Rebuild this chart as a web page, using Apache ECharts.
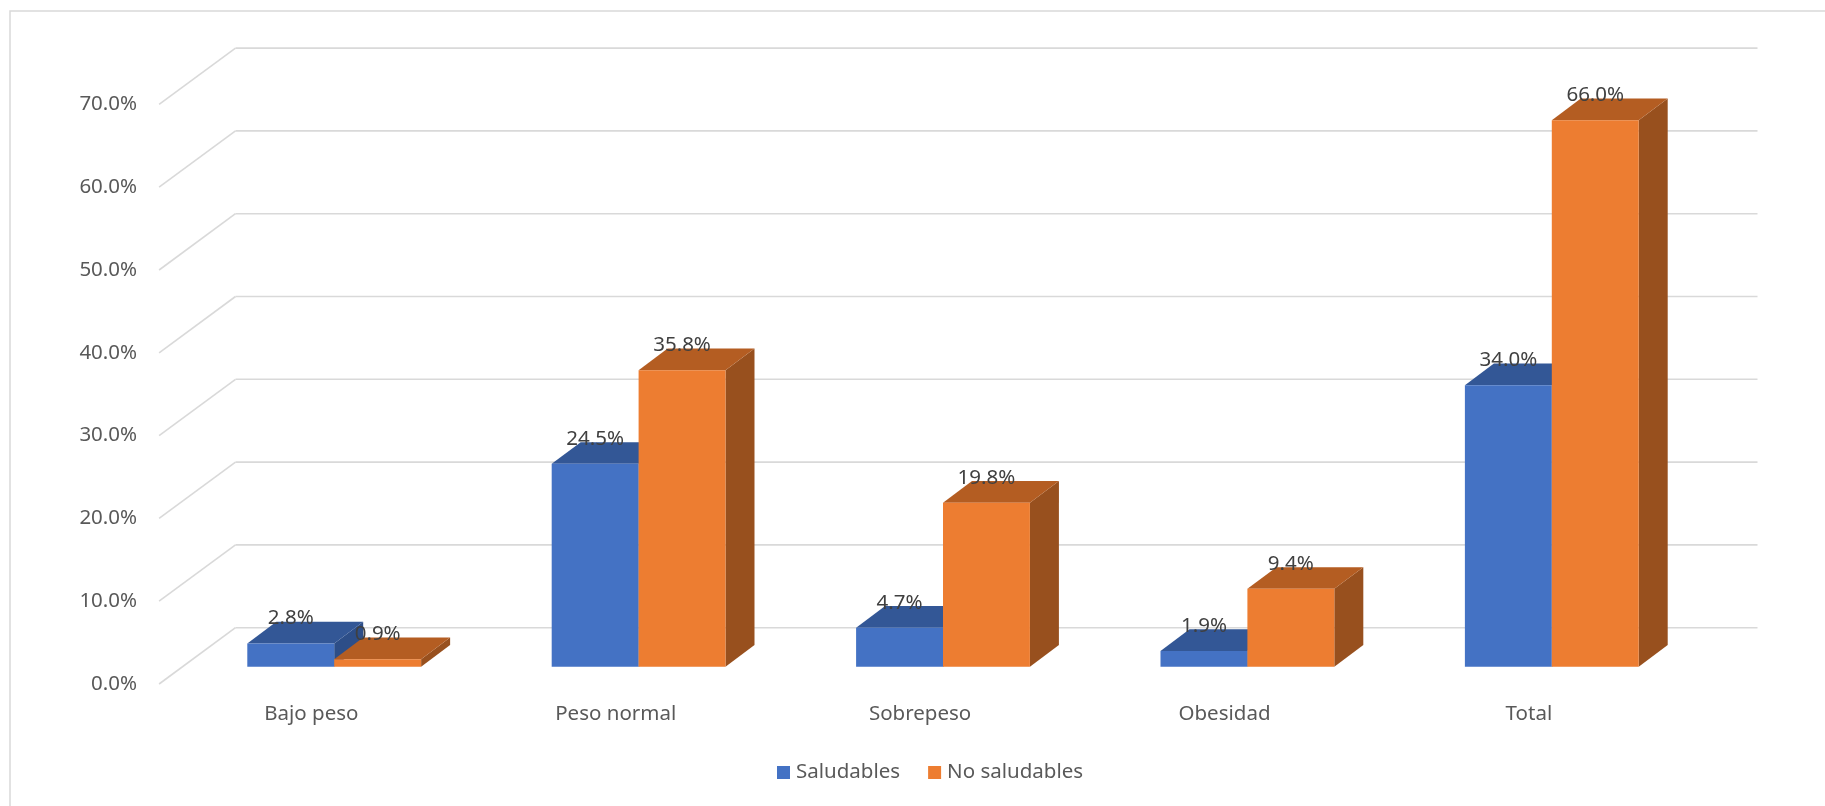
<!DOCTYPE html>
<html>
<head>
<meta charset="utf-8">
<script src="https://cdn.jsdelivr.net/npm/echarts@6/dist/echarts.min.js"></script>
<style>
html,body{margin:0;padding:0;background:#fff;}
#chart{width:1825px;height:806px;}
</style>
</head>
<body>
<div id="chart"></div>
<script>
const categories = ['Bajo peso', 'Peso normal', 'Sobrepeso', 'Obesidad', 'Total'];
const saludables = [2.8, 24.5, 4.7, 1.9, 34.0];
const noSaludables = [0.9, 35.8, 19.8, 9.4, 66.0];
const yTicks = [0, 10, 20, 30, 40, 50, 60, 70];
const seriesNames = ['Saludables', 'No saludables'];

const FONT = '"Noto Sans", "Open Sans", sans-serif';
const colors = [
  { front: '#4472C4', top: '#335796', side: '#2D4E88' },
  { front: '#ED7D31', top: '#B45D22', side: '#98501E' }
];
const DEPTH = [29, -21.7];      // bar depth vector
const BACK = [53.5, -39];       // back wall offset from bar front plane
const FRONT = [-22.9, 17.3];    // floor front edge offset from bar front plane
const BAR_RATIO = 0.2855;

const chart = echarts.init(document.getElementById('chart'), null, { renderer: 'canvas' });

function barRender(params, api) {
  const idx = params.seriesIndex - 1;
  const i = api.value(0), v = api.value(1);
  const base = api.coord([i, 0]);
  const top = api.coord([i, v]);
  const band = api.size([1, 0])[0];
  const w = band * BAR_RATIO;
  const x0 = idx === 0 ? base[0] - w : base[0];
  const x1 = x0 + w;
  const c = colors[idx];
  const dx = DEPTH[0], dy = DEPTH[1];
  return {
    type: 'group',
    children: [
      { type: 'polygon', shape: { points: [[x1, top[1]], [x1 + dx, top[1] + dy], [x1 + dx, base[1] + dy], [x1, base[1]]] }, style: { fill: c.side } },
      { type: 'polygon', shape: { points: [[x0, top[1]], [x1, top[1]], [x1 + dx, top[1] + dy], [x0 + dx, top[1] + dy]] }, style: { fill: c.top } },
      { type: 'rect', shape: { x: x0, y: top[1], width: w, height: base[1] - top[1] }, style: { fill: c.front } },
      { type: 'text', z2: 10, style: { text: v.toFixed(1) + '%', x: (x0 + x1) / 2, y: top[1] - 25, align: 'center', verticalAlign: 'middle', textAlign: 'center', textVerticalAlign: 'middle', font: '20.5px ' + FONT, fill: '#404040' } }
    ]
  };
}

function wallRender(params, api) {
  const v = api.value(1);
  const y = api.coord([0, v])[1];
  const left = params.coordSys.x;
  const right = params.coordSys.x + params.coordSys.width;
  const st = { stroke: '#D9D9D9', lineWidth: 1.6, fill: null };
  return {
    type: 'group',
    children: [
      { type: 'line', shape: { x1: left + BACK[0], y1: y + BACK[1], x2: right + BACK[0], y2: y + BACK[1] }, style: st },
      { type: 'line', shape: { x1: left + FRONT[0], y1: y + FRONT[1], x2: left + BACK[0], y2: y + BACK[1] }, style: st }
    ]
  };
}

const option = {
  animation: false,
  backgroundColor: '#fff',
  graphic: [
    { type: 'rect', silent: true, shape: { x: 10, y: 11, width: 1840, height: 830 }, style: { fill: null, stroke: '#D9D9D9', lineWidth: 1.5 } }
  ],
  legend: {
    data: seriesNames,
    left: 777,
    top: 762,
    padding: 0,
    icon: 'rect',
    itemWidth: 13,
    itemHeight: 13,
    itemGap: 28,
    textStyle: { fontFamily: FONT, fontSize: 20.5, color: '#595959', padding: [0, 0, 0, 1] }
  },
  grid: [
    { left: 182, right: 121, top: 87.1, bottom: 139.3 },
    { left: 159.1, right: 143.9, top: 104.4, bottom: 122.0 }
  ],
  xAxis: [
    { type: 'category', gridIndex: 0, data: categories, show: false },
    { type: 'category', gridIndex: 1, data: categories,
      axisLine: { show: false }, axisTick: { show: false }, splitLine: { show: false },
      axisLabel: { margin: 20, fontFamily: FONT, fontSize: 20.5, color: '#595959' } }
  ],
  yAxis: [
    { type: 'value', gridIndex: 0, min: 0, max: 70, interval: 10, show: false },
    { type: 'value', gridIndex: 1, min: 0, max: 70, interval: 10,
      axisLine: { show: false }, axisTick: { show: false }, splitLine: { show: false },
      axisLabel: { margin: 22, fontFamily: FONT, fontSize: 20.5, color: '#595959', formatter: v => v.toFixed(1) + '%' } }
  ],
  series: [
    { type: 'custom', name: '_walls', xAxisIndex: 0, yAxisIndex: 0, z: 1, silent: true,
      data: yTicks.map(v => [0, v]), encode: { x: 0, y: 1 }, renderItem: wallRender },
    { type: 'custom', name: seriesNames[0], xAxisIndex: 0, yAxisIndex: 0, z: 3,
      itemStyle: { color: colors[0].front },
      data: saludables.map((v, i) => [i, v]), encode: { x: 0, y: 1 }, renderItem: barRender },
    { type: 'custom', name: seriesNames[1], xAxisIndex: 0, yAxisIndex: 0, z: 4,
      itemStyle: { color: colors[1].front },
      data: noSaludables.map((v, i) => [i, v]), encode: { x: 0, y: 1 }, renderItem: barRender }
  ]
};
chart.setOption(option);
</script>
</body>
</html>
